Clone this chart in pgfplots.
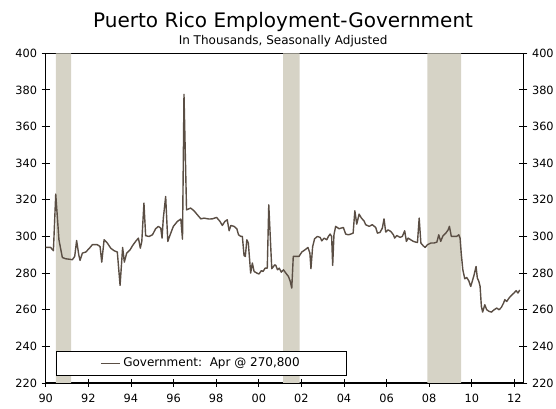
\documentclass[border=0pt]{standalone}
\usepackage{pgfplots}
\pgfplotsset{compat=1.18}
\usepackage{fontspec}
\setmainfont{DejaVu Sans}
\definecolor{linec}{HTML}{5A4E44}
\definecolor{bandc}{HTML}{D6D3C6}
\begin{document}
\begin{tikzpicture}
\useasboundingbox (-34.3pt,-19.5pt) rectangle (382.7pt,287.25pt);
\begin{axis}[at={(0,0)}, anchor=south west, scale only axis,
  width=358.2pt, height=247.3pt,
  xmin=1990, xmax=2012.42, ymin=220, ymax=400,
  xtick={1990,1992,...,2012},
  xticklabels={90,92,94,96,98,00,02,04,06,08,10,12},
  ytick={220,240,...,400},
  xtick pos=lower, ytick pos=left,
  tick align=center, major tick length=6pt,
  tick style={black, line width=0.6pt},
  axis line style={black, line width=0.8pt},
  ticklabel style={font=\fontsize{8.5}{10}\selectfont},
  xticklabel style={yshift=-2pt},
  /pgf/number format/assume math mode=true,
  /pgf/number format/1000 sep={},
  legend style={at={(rel axis cs:0.021,0.0212)}, anchor=south west, draw=black, line width=0.6pt,
    inner xsep=33pt, inner ysep=3pt, font=\fontsize{9}{10.5}\selectfont},
  legend image code/.code={\draw[#1, line width=1.1pt] (0cm,0cm) -- (0.5cm,0cm);},
  clip=true,
]
\addplot[fill=bandc, draw=none, forget plot] coordinates {(1990.48,220) (1991.19,220) (1991.19,400) (1990.48,400)} \closedcycle;
\addplot[fill=bandc, draw=none, forget plot] coordinates {(2001.14,220) (2001.92,220) (2001.92,400) (2001.14,400)} \closedcycle;
\addplot[fill=bandc, draw=none, forget plot] coordinates {(2007.92,220) (2009.50,220) (2009.50,400) (2007.92,400)} \closedcycle;
\addplot[color=linec, line width=1.05pt, line join=round] table {
x y
1990.00 294.0
1990.23 294.0
1990.36 292.2
1990.47 323.1
1990.62 298.2
1990.78 288.5
1990.94 287.8
1991.09 287.6
1991.25 287.3
1991.36 289.1
1991.45 297.8
1991.55 290.0
1991.61 286.9
1991.72 290.9
1991.88 291.5
1992.03 293.3
1992.19 295.5
1992.42 295.5
1992.55 294.5
1992.63 286.0
1992.74 298.2
1992.89 296.4
1993.05 293.6
1993.21 292.2
1993.36 291.5
1993.49 273.3
1993.61 294.0
1993.69 286.0
1993.80 290.9
1993.96 292.7
1994.07 294.9
1994.22 297.3
1994.35 299.1
1994.44 293.6
1994.51 297.3
1994.61 318.2
1994.69 300.4
1994.85 300.0
1995.01 300.9
1995.16 304.2
1995.29 305.5
1995.40 304.5
1995.46 299.1
1995.52 310.0
1995.63 321.8
1995.73 297.3
1995.84 300.9
1995.99 305.5
1996.18 308.2
1996.34 309.5
1996.42 298.5
1996.49 377.6
1996.61 314.5
1996.80 315.5
1996.96 314.0
1997.12 311.8
1997.28 309.6
1997.43 310.0
1997.67 309.5
1997.82 309.6
1998.02 310.4
1998.18 308.2
1998.29 306.0
1998.41 308.2
1998.52 309.1
1998.61 303.1
1998.69 306.0
1998.84 305.5
1998.97 304.2
1999.05 300.9
1999.16 300.0
1999.23 300.0
1999.31 289.5
1999.37 289.1
1999.44 298.2
1999.51 296.4
1999.62 280.0
1999.70 285.5
1999.78 280.9
1999.91 280.0
2000.01 279.5
2000.12 281.3
2000.20 280.9
2000.30 282.7
2000.40 282.7
2000.47 317.3
2000.61 282.4
2000.75 284.5
2000.80 284.2
2000.88 281.8
2000.96 282.7
2001.06 280.5
2001.16 281.8
2001.27 280.0
2001.39 278.2
2001.47 275.8
2001.55 271.8
2001.62 289.1
2001.73 289.1
2001.89 289.1
2002.02 291.5
2002.17 292.7
2002.31 294.0
2002.40 290.9
2002.45 282.4
2002.53 294.5
2002.62 298.7
2002.75 300.0
2002.88 299.5
2002.96 297.6
2003.07 299.1
2003.19 298.2
2003.27 300.0
2003.35 301.3
2003.42 300.0
2003.47 284.2
2003.53 300.9
2003.61 305.5
2003.77 304.2
2003.85 304.5
2003.97 304.9
2004.08 301.3
2004.21 300.9
2004.32 301.3
2004.43 301.8
2004.51 314.0
2004.60 306.7
2004.71 312.2
2004.82 310.0
2004.94 308.5
2005.02 306.4
2005.18 305.5
2005.33 306.4
2005.49 304.9
2005.57 301.8
2005.69 302.2
2005.80 304.5
2005.88 309.6
2005.96 302.4
2006.07 303.6
2006.20 302.7
2006.32 300.9
2006.38 299.1
2006.48 300.5
2006.63 299.5
2006.74 300.0
2006.85 303.1
2006.93 297.3
2007.01 299.1
2007.13 298.2
2007.26 297.3
2007.37 296.9
2007.45 296.7
2007.53 310.0
2007.61 296.4
2007.72 294.9
2007.81 294.0
2007.92 295.5
2008.08 296.4
2008.23 296.4
2008.36 296.9
2008.45 300.9
2008.54 297.3
2008.65 300.4
2008.78 301.8
2008.89 303.6
2008.95 305.5
2009.04 300.0
2009.17 300.0
2009.29 300.0
2009.39 300.9
2009.45 299.1
2009.51 290.0
2009.58 281.8
2009.67 276.9
2009.76 277.6
2009.86 275.8
2009.95 272.7
2010.03 275.8
2010.11 279.1
2010.20 283.6
2010.26 277.3
2010.33 275.5
2010.39 272.7
2010.45 261.8
2010.51 258.7
2010.61 262.7
2010.70 260.0
2010.81 259.1
2010.92 258.7
2011.05 260.0
2011.17 260.9
2011.28 260.0
2011.39 261.3
2011.49 263.6
2011.55 265.5
2011.64 264.5
2011.75 266.4
2011.86 267.8
2011.98 269.1
2012.08 270.4
2012.17 269.1
2012.25 270.8
};
\addlegendentry{Government:\ \ Apr @ 270,800}
\end{axis}
\begin{axis}[at={(0,0)}, anchor=south west, scale only axis,
  width=358.2pt, height=247.3pt,
  xmin=1990, xmax=2012.42, ymin=220, ymax=400,
  axis x line=none, axis y line*=right,
  ytick={220,240,...,400},
  tick align=center, major tick length=6pt,
  tick style={black, line width=0.6pt},
  axis line style={black, line width=0.8pt},
  ticklabel style={font=\fontsize{8.5}{10}\selectfont},
  /pgf/number format/assume math mode=true,
  /pgf/number format/1000 sep={},
]
\addplot[draw=none] coordinates {(1990,220)};
\end{axis}
\node[font=\fontsize{15}{17}\selectfont, anchor=base] at (178pt,266.8pt) {Puerto Rico Employment-Government};
\node[font=\fontsize{9}{10}\selectfont, anchor=base] at (178pt,253.5pt) {In Thousands, Seasonally Adjusted};
\end{tikzpicture}
\end{document}
